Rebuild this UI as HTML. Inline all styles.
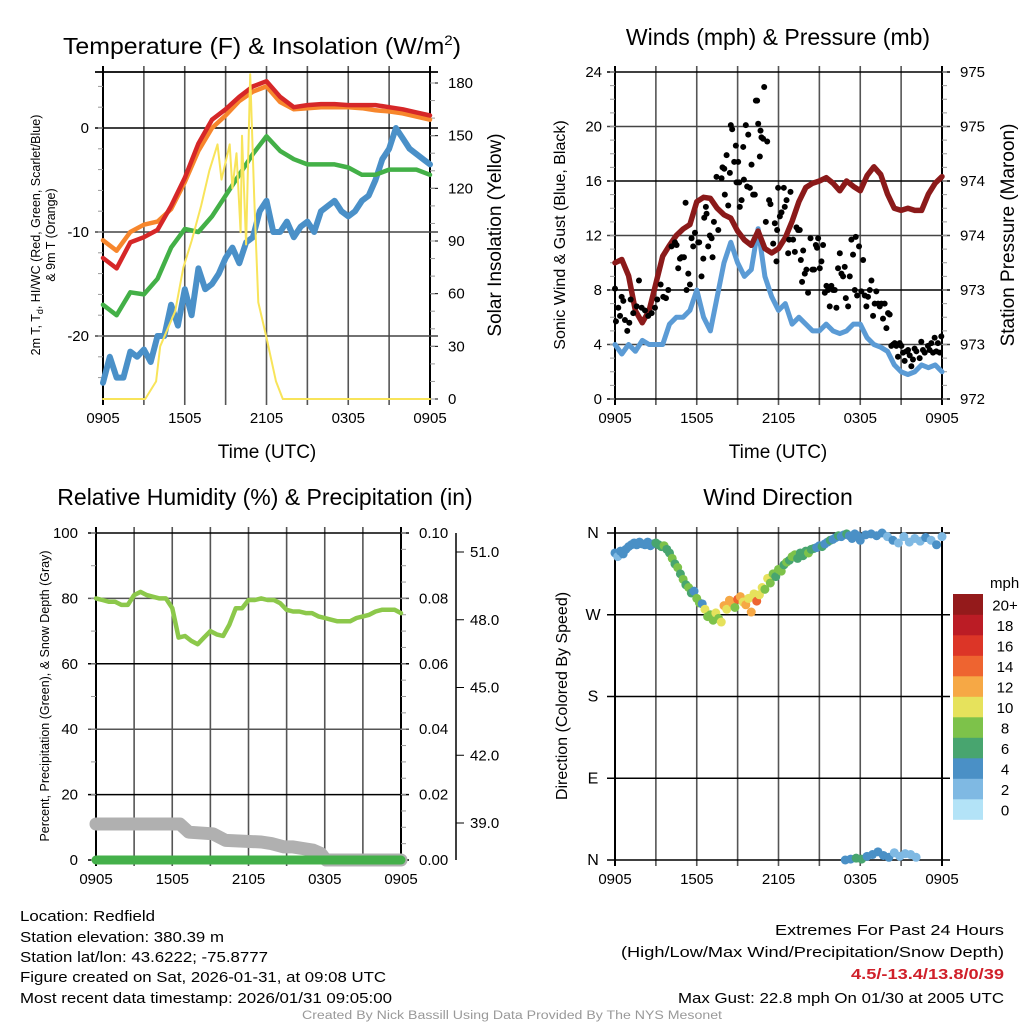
<!DOCTYPE html>
<html><head><meta charset="utf-8"><style>
html,body{margin:0;padding:0;background:#fff}
svg{display:block}
text{font-family:"Liberation Sans",Arial,sans-serif;fill:#000}
</style></head><body>
<svg id="fig" width="1024" height="1024" viewBox="0 0 1024 1024" xmlns="http://www.w3.org/2000/svg">
<text x="63" y="54" font-size="23" textLength="398" lengthAdjust="spacingAndGlyphs">Temperature (F) &amp; Insolation (W/m<tspan font-size="14" dy="-9">2</tspan><tspan dy="9">)</tspan></text>
<text x="778" y="45" font-size="23" text-anchor="middle">Winds (mph) &amp; Pressure (mb)</text>
<text x="265" y="505" font-size="23" text-anchor="middle">Relative Humidity (%) &amp; Precipitation (in)</text>
<text x="778" y="505" font-size="23" text-anchor="middle">Wind Direction</text>

<g id="p1"></g>
<g id="p2"></g>
<g id="p3"></g>
<g id="p4"></g>

<text transform="translate(40,235) rotate(-90)" font-size="12.5" text-anchor="middle">2m T, T<tspan font-size="9" dy="3">d</tspan><tspan dy="-3">, HI/WC (Red, Green, Scarlet/Blue)</tspan></text>
<text transform="translate(55,235) rotate(-90)" font-size="12.5" text-anchor="middle">&amp; 9m T (Orange)</text>
<text transform="translate(501,235) rotate(-90)" font-size="19" text-anchor="middle">Solar Insolation (Yellow)</text>
<text transform="translate(565,235) rotate(-90)" font-size="16" text-anchor="middle">Sonic Wind &amp; Gust (Blue, Black)</text>
<text transform="translate(1014,235) rotate(-90)" font-size="19" text-anchor="middle">Station Pressure (Maroon)</text>
<text transform="translate(49,696) rotate(-90)" font-size="12.5" text-anchor="middle">Percent, Precipitation (Green), &amp; Snow Depth (Gray)</text>
<text transform="translate(567,696) rotate(-90)" font-size="16" text-anchor="middle">Direction (Colored By Speed)</text>
<text x="267" y="458" font-size="19" text-anchor="middle">Time (UTC)</text>
<text x="778" y="458" font-size="19" text-anchor="middle">Time (UTC)</text>

<g font-size="14.5">
<text x="20" y="921" textLength="135" lengthAdjust="spacingAndGlyphs">Location: Redfield</text>
<text x="20" y="942" textLength="204" lengthAdjust="spacingAndGlyphs">Station elevation: 380.39 m</text>
<text x="20" y="962" textLength="248" lengthAdjust="spacingAndGlyphs">Station lat/lon: 43.6222; -75.8777</text>
<text x="20" y="982" textLength="366" lengthAdjust="spacingAndGlyphs">Figure created on Sat, 2026-01-31, at 09:08 UTC</text>
<text x="20" y="1003" textLength="372" lengthAdjust="spacingAndGlyphs">Most recent data timestamp: 2026/01/31 09:05:00</text>
<text x="775" y="935" textLength="229" lengthAdjust="spacingAndGlyphs">Extremes For Past 24 Hours</text>
<text x="621" y="957" textLength="383" lengthAdjust="spacingAndGlyphs">(High/Low/Max Wind/Precipitation/Snow Depth)</text>
<text x="851" y="979" textLength="153" lengthAdjust="spacingAndGlyphs" font-weight="bold" style="fill:#d0202a">4.5/-13.4/13.8/0/39</text>
<text x="678" y="1003" textLength="326" lengthAdjust="spacingAndGlyphs">Max Gust: 22.8 mph On 01/30 at 2005 UTC</text>
<text x="302" y="1019" font-size="11.5" textLength="420" lengthAdjust="spacingAndGlyphs" style="fill:#999">Created By Nick Bassill Using Data Provided By The NYS Mesonet</text>
</g>
</svg>
<script>
// ---------- data ----------
const xTickLabels = ["0905","1505","2105","0305","0905"];
const halfHours = [0,0.5,1,1.5,2,2.5,3,3.5,4,4.5,5,5.5,6,6.5,7,7.5,8,8.5,9,9.5,10,10.5,11,11.5,12,12.5,13,13.5,14,14.5,15,15.5,16,16.5,17,17.5,18,18.5,19,19.5,20,20.5,21,21.5,22,22.5,23,23.5,24];
const hours = [0,1,2,3,4,5,6,7,8,9,10,11,12,13,14,15,16,17,18,19,20,21,22,23,24];
const tempRed = [-12.5,-13.5,-11,-10.5,-9.8,-7.5,-4.8,-1.5,0.8,1.8,3,4,4.5,3,2,2.2,2.3,2.3,2.2,2.2,2.2,2.0,1.8,1.5,1.2];
const tempOrange = [-10.8,-11.8,-10,-9.3,-9,-7.8,-5.2,-2.2,0,1.2,2.6,3.5,4,2.5,1.8,1.9,2,2,2,1.9,1.7,1.6,1.4,1.1,0.8];
const dewGreen = [-17,-18,-15.8,-16,-14.5,-11.5,-9.7,-10,-8.5,-6.5,-4.5,-2.5,-0.8,-2.2,-3,-3.5,-3.5,-3.5,-3.8,-4.5,-4.5,-4,-4,-4,-4.5];
const windChill = [-24.5,-22,-24,-24,-21.5,-22,-21.3,-22.5,-20,-20,-17,-19,-15.5,-18,-13.5,-15.5,-15,-14,-12.5,-11.5,-13,-11,-10.5,-8,-7,-10,-10,-9,-10.5,-9.5,-9,-10,-8,-7.5,-7,-8,-8.5,-8,-7,-6.5,-5,-3,-2,0,-1,-2,-2.5,-3,-3.5];
const solarTimes = [0,3.1,3.9,4.2,5.3,5.9,6.5,7.2,7.8,8.4,8.7,9.3,9.5,9.8,10.1,10.2,10.5,10.8,11.1,11.4,12,12.7,13.2,24];
const solarVals = [0,0,10,30,50,75,90,110,130,145,125,145,120,140,95,150,88,185,115,55,35,10,0,0];
const windSpeed = [4,3.3,4,3.5,4.3,4,4,4,5.5,6,6,6.5,8,6,5,7.5,10,11.5,10,9,9.5,12.5,9,7.5,6.5,7,5.5,6,5.5,5,5,5.5,5,4.8,5,5.5,5.5,4.5,4,3.8,3.5,2.5,2,1.8,2,2.5,2.3,2.5,2];
const pressure = [973.25,973.28,973.13,972.81,972.7,972.81,973.06,973.31,973.41,973.5,973.56,973.6,973.81,973.85,973.84,973.75,973.69,973.66,973.54,973.46,973.41,973.54,973.38,973.34,973.38,973.48,973.63,973.81,973.94,973.98,974,974.03,973.98,973.91,974,973.95,973.91,974.05,974.13,974.06,973.88,973.75,973.73,973.75,973.73,973.73,973.88,973.98,974.04];
const gustTimes = [
0,0.07,0.24,0.37,0.49,0.61,0.73,0.90,1.05,1.15,
1.34,1.59,1.76,1.96,2.20,2.44,2.69,2.93,3.10,3.35,
3.54,3.74,3.91,4.15,4.40,4.52,4.64,4.77,4.89,5.06,
5.18,5.25,5.38,5.50,5.62,5.74,5.87,6.11,6.18,6.35,
6.48,6.55,6.67,6.72,6.84,6.96,7.09,7.16,7.26,7.45,
7.58,7.82,7.89,8.02,8.06,8.19,8.31,8.43,8.50,8.60,
8.75,8.87,8.92,9.04,9.12,9.16,9.29,9.41,9.46,9.60,
9.70,9.78,9.90,10.02,10.14,10.26,10.34,10.43,10.51,10.63,
10.68,10.75,10.87,10.95,11.07,11.17,11.31,11.41,11.61,11.73,
11.85,11.90,11.97,12.10,12.22,12.39,12.46,12.59,12.71,12.78,
12.88,13.07,13.20,13.32,13.44,13.56,13.64,13.73,13.81,13.93,
14.05,14.17,14.35,14.49,14.61,14.74,14.83,14.91,15.03,15.15,
15.27,15.40,15.52,15.64,15.76,15.88,16.01,16.13,16.25,16.37,
16.50,16.62,16.74,16.86,16.94,17.11,17.23,17.35,17.47,17.60,
17.67,17.77,17.91,18.08,18.21,18.33,18.45,18.57,18.70,18.82,
18.94,19.06,19.18,19.31,19.43,19.55,19.67,19.79,19.92,20.04,
20.16,20.28,20.41,20.53,20.65,20.77,20.89,21.02,21.14,21.26,
21.38,21.51,21.63,21.75,21.87,21.99,22.12,22.36,22.48,22.60,
22.73,22.97,23.09,23.22,23.34,23.46,23.58,23.70,23.83,23.95];
const gustVals = [
8.1,5.7,6.7,6.1,7.5,7.2,5.8,5.0,5.6,7.3,
6.3,6.8,8.7,6.7,6.5,6.1,6.3,6.7,7.3,8.4,
7.5,7.4,8.0,11.2,11.5,11.3,9.6,10.3,10.4,10.4,
14.4,8.0,9.2,8.4,11.8,11.2,12.2,11.5,11.5,9.0,
10.3,13.3,14.1,13.6,11.2,12.0,11.8,10.4,13.0,16.3,
12.4,16.2,17.0,16.9,15.0,17.9,14.2,16.6,20.1,19.8,
17.4,18.6,15.9,17.4,15.9,14.1,14.6,18.5,16.1,20.1,
15.6,19.4,15.5,17.2,15.0,15.0,21.9,21.9,20.2,17.8,
19.7,19.2,19.1,22.9,13.0,18.9,14.6,14.3,11.4,12.9,
10.1,12.4,15.5,13.4,13.7,15.5,14.1,14.6,10.7,11.7,
15.2,11.7,10.8,12.6,12.4,12.4,10.2,8.6,10.9,9.2,
9.5,7.8,11.8,9.5,9.5,11.3,11.1,11.8,9.6,10.1,
11.3,7.8,8.3,8.0,6.8,8.3,8.0,8.0,6.7,9.6,
10.7,9.2,9.0,9.7,7.4,6.8,9.0,11.7,10.6,8.0,
11.9,7.6,11.2,7.9,10.2,7.6,6.8,7.5,8.0,8.7,
6.1,7.0,7.9,7.0,6.8,7.0,5.9,7.0,5.2,6.3,
6.2,3.9,4.0,4.1,3.9,3.1,4.1,3.9,3.4,2.8,
3.5,3.6,3.2,2.4,2.9,3.7,3.5,3.0,4.2,3.6,
3.4,3.9,3.6,4.1,3.4,4.5,3.5,4.1,3.4,4.6];
const rh = [80,79.5,79,79,78,78,81,82,81,80.5,80,80,77,68,68.5,67,66,68,70,69,68.5,72,77,77,79.5,79.5,80,79.5,79.5,78.5,76.5,76,76,75.5,75.5,74.5,74,73.5,73,73,73,74,74.5,75,76,76.5,76.5,76.5,75.5];
const snowTimes = [0,6.6,7.3,9.2,10.2,13,13.8,14.8,15.5,17.1,17.7,18.1,24];
const snowVals = [11,11,8.5,8,6,5.5,5,4,4,3,2,0,0];
const precipVals = [0,0];
const dirTimes = [
0,0.2,0.4,0.6,0.8,1.0,1.2,1.4,1.6,1.8,
2.0,2.2,2.4,2.6,2.8,3.0,3.2,3.4,3.6,3.8,
4.0,4.2,4.4,4.6,4.8,5.0,5.2,5.4,5.6,5.8,
6.0,6.2,6.4,6.6,6.8,7.0,7.2,7.4,7.6,7.8,
8.0,8.2,8.4,8.6,8.8,9.0,9.2,9.4,9.6,9.8,
10.0,10.2,10.4,10.6,10.8,11.0,11.2,11.4,11.6,11.8,
12.0,12.2,12.4,12.6,12.8,13.0,13.2,13.4,13.6,13.8,
14.0,14.2,14.4,14.6,14.8,15.0,15.2,15.4,15.6,15.8,
16.0,16.2,16.4,16.6,16.8,17.0,17.2,17.4,17.6,17.8,
18.0,18.4,18.8,19.2,19.6,20.0,20.4,20.8,21.2,21.6,
22.0,22.4,22.8,23.2,23.6,24.0,16.9,17.3,17.7,18.1,
18.5,18.9,19.3,19.7,20.1,20.5,20.9,21.3,21.7,22.1];
const dirVals = [
338,334,340,337,342,345,347,349,347,350,
348,347,350,346,348,349,347,345,346,342,
338,332,326,322,315,309,303,300,294,296,
288,283,282,276,268,270,264,272,266,262,
280,276,286,283,278,287,290,284,281,288,
273,293,285,292,300,298,310,305,315,312,
320,318,325,328,330,334,336,332,338,335,
340,338,342,343,344,346,345,348,350,352,
353,355,357,356,358,359,357,354,359,357,
352,358,359,357,360,356,352,349,356,350,
354,351,355,352,347,356,0,1,2,1,
4,6,9,5,3,8,4,7,6,3];
const dirSpeeds = [
3,2,4,4,3,4,4,4,4,4,
4,4,4,4,4,5,6,6,7,6,
6,7,5,8,6,7,5,7,6,4,
7,8,4,9,8,7,8,10,7,9,
12,10,12,11,8,13,12,10,11,9,
12,9,14,9,10,8,9,7,8,6,
7,8,6,7,6,7,7,6,5,6,
6,7,5,5,4,4,5,4,4,5,
4,4,5,4,4,6,4,4,3,4,
4,4,3,3,3,2,3,2,1,2,
2,2,3,2,3,2,4,4,6,5,
4,4,4,3,3,2,1,2,2,2];
const speedBins = ["0","2","4","6","8","10","12","14","16","18","20+"];
const speedColors = ["#b3e3f7","#7fb9e3","#4a90c6","#48a56f","#7dc24a","#e6e25c","#f6a845","#ee6430","#dc3527","#bb1c25","#941a1b"];
const tempTicks = [0,-10,-20];
const solarTicks = [0,30,60,90,120,150,180];
const windTicks = [0,4,8,12,16,20,24];
const pressureTickLabels = ["972","973","973","974","974","975","975"];
const rhTicks = [0,20,40,60,80,100];
const precipTickLabels = ["0.00","0.02","0.04","0.06","0.08","0.10"];
const snowAxisTicks = [39.0,42.0,45.0,48.0,51.0];
const dirLabels = ["N","E","S","W","N"];

// ---------- helpers ----------
const NS="http://www.w3.org/2000/svg";
function mk(parent,tag,attrs){const e=document.createElementNS(NS,tag);for(const k in attrs)e.setAttribute(k,attrs[k]);parent.appendChild(e);return e;}
function lin(d0,d1,r0,r1){return v=>r0+(v-d0)/(d1-d0)*(r1-r0);}

function frame(g,L,R,T,B){
  const xs=lin(0,24,L,R);
  for(let i=0;i<=8;i++){
    const x=xs(i*3);
    const gl=mk(g,'line',{x1:x,x2:x,y1:T-6,y2:B+6,stroke:(i==0||i==8)?'#000':'#555','stroke-width':(i==0||i==8)?2:1.6});
    
    
  }
  for(let i=0;i<5;i++){
    const t=mk(g,'text',{x:xs(i*6),y:B+24,'font-size':15,'text-anchor':'middle'});
    t.textContent=xTickLabels[i];
    
    
  }
  return xs;
}
function hline(g,y,L,R,w,col){const l=mk(g,'line',{x1:L-8,x2:R+8,y1:y,y2:y,stroke:col||'#000','stroke-width':w||1.5});
  
  }
function minor(g,x,ys,dir){ys.forEach(y=>{const l=mk(g,'line',{x1:x,x2:x+dir*5,y1:y,y2:y,stroke:'#999','stroke-width':1});
  
  });}
function label(g,x,y,s,anchor,fs){const t=mk(g,'text',{x:x,y:y+5,'font-size':fs||15,'text-anchor':anchor});t.textContent=s;
  
  return t;}
function path(g,xsArr,ysArr,xs,ys,stroke,w,name){
  let d='';const n=Math.min(xsArr.length,ysArr.length);
  for(let i=0;i<n;i++)d+=(i?'L':'M')+xs(xsArr[i]).toFixed(1)+','+ys(ysArr[i]).toFixed(1);
  const p=mk(g,'path',{d:d,fill:'none',stroke:stroke,'stroke-width':w,'stroke-linejoin':'round','stroke-linecap':'round'});
  
  return p;}

// ---------- panel 1 ----------
(function(){
  const g=document.getElementById('p1');const L=103,R=430,T=72,B=399;
  const xs=frame(g,L,R,T,B);
  const yT=lin(-10,0,232,128), yS=lin(0,180,399,83);
  hline(g,T,L,R,1.8);
  tempTicks.forEach(v=>{hline(g,yT(v),L,R,1.6,v==0?'#000':'#444');label(g,L-14,yT(v),String(v),'end');});
  solarTicks.forEach(v=>{label(g,R+18,yS(v),String(v),'start');const l=mk(g,'line',{x1:R,x2:R+8,y1:yS(v),y2:yS(v),stroke:'#000'});
    
    });
  const mt=[];for(let v=-24;v<=4;v+=2)mt.push(yT(v));minor(g,L,mt,-1);
  const ms=[];for(let v=0;v<=185;v+=10)ms.push(yS(v));minor(g,R,ms,1);
  path(g,halfHours,windChill,xs,yT,'#4a90c8',6,'wind-chill-line');
  path(g,hours,dewGreen,xs,yT,'#43b047',4.5,'dewpoint-line');
  path(g,hours,tempOrange,xs,yT,'#f7862c',4.5,'temp-9m-line');
  path(g,hours,tempRed,xs,yT,'#d62728',4.5,'temp-2m-line');
  path(g,solarTimes,solarVals,xs,yS,'#f8e45a',2,'solar-line');
})();
// ---------- panel 2 ----------
(function(){
  const g=document.getElementById('p2');const L=615,R=942,T=72,B=399;
  const xs=frame(g,L,R,T,B);
  const yW=lin(0,24,399,72), yP=lin(972,975,399,72);
  windTicks.forEach((v,i)=>{hline(g,yW(v),L,R,1.5,(v%8==0)?'#000':'#444');label(g,L-13,yW(v),String(v),'end');
    label(g,R+18,yW(v),pressureTickLabels[i],'start');});
  const mt=[];for(let v=0;v<=24;v+=1)mt.push(yW(v));minor(g,L,mt,-1);minor(g,R,mt,1);
  path(g,halfHours,windSpeed,xs,yW,'#5b9bd5',5,'sonic-wind-line');
  path(g,halfHours,pressure,xs,yP,'#8b1a1a',5.5,'pressure-line');
  const n=Math.min(gustTimes.length,gustVals.length);
  for(let i=0;i<n;i++){const c=mk(g,'circle',{cx:xs(gustTimes[i]),cy:yW(gustVals[i]),r:3,fill:'#000'});
    
    }
})();
// ---------- panel 3 ----------
(function(){
  const g=document.getElementById('p3');const L=96,R=401,T=533,B=860;
  const xs=frame(g,L,R,T,B);
  const yR=lin(0,100,860,533);
  rhTicks.forEach((v,i)=>{hline(g,yR(v),L,R,1.5,(v==40||v==80)?'#555':'#000');label(g,L-18,yR(v),String(v),'end');
    label(g,R+18,yR(v),precipTickLabels[i],'start');});
  const mt=[];for(let v=0;v<=100;v+=10)mt.push(yR(v));minor(g,L,mt,-1);
  const m2=[];for(let v=0;v<=100;v+=5)m2.push(yR(v));minor(g,R,m2,1);
  const sAx=lin(39,51,823,552);
  const ax=mk(g,'line',{x1:456,x2:456,y1:533,y2:860,stroke:'#000','stroke-width':1.5});
  
  
  snowAxisTicks.forEach(v=>{const l=mk(g,'line',{x1:456,x2:464,y1:sAx(v),y2:sAx(v),stroke:'#000'});
    
    
    label(g,470,sAx(v),v.toFixed(1),'start');});
  path(g,snowTimes,snowVals,xs,yR,'#b0b0b0',13,'snow-depth-line');
  path(g,[0,24],precipVals,xs,yR,'#44b04a',9,'precip-line');
  path(g,halfHours,rh,xs,yR,'#8cc84b',4.5,'rh-line');
})();
// ---------- panel 4 ----------
(function(){
  const g=document.getElementById('p4');const L=615,R=942,T=533,B=860;
  const xs=frame(g,L,R,T,B);
  const yD=lin(0,360,860,533);
  for(let i=0;i<5;i++){const v=i*90;hline(g,yD(v),L,R,1.5,'#000');label(g,L-22,yD(v),dirLabels[i],'middle',16);}
  const n=Math.min(dirTimes.length,dirVals.length,dirSpeeds.length);
  for(let i=0;i<n;i++){const bin=Math.min(10,Math.round(dirSpeeds[i]/2));
    const c=mk(g,'circle',{cx:xs(dirTimes[i]),cy:yD(dirVals[i]),r:4.5,fill:speedColors[bin]});
    
    }
  const lt=mk(g,'text',{x:990,y:588,'font-size':15});lt.textContent='mph';
  
  
  const h=20.5;
  for(let i=0;i<11;i++){const y=594+(10-i)*h;
    const r=mk(g,'rect',{x:953,y:y,width:30,height:h+0.3,fill:speedColors[i]});
    
    
    const t=mk(g,'text',{x:1005,y:y+h/2+6,'font-size':15,'text-anchor':'middle'});t.textContent=speedBins[i];
    
    }
})();
</script>
</body></html>
